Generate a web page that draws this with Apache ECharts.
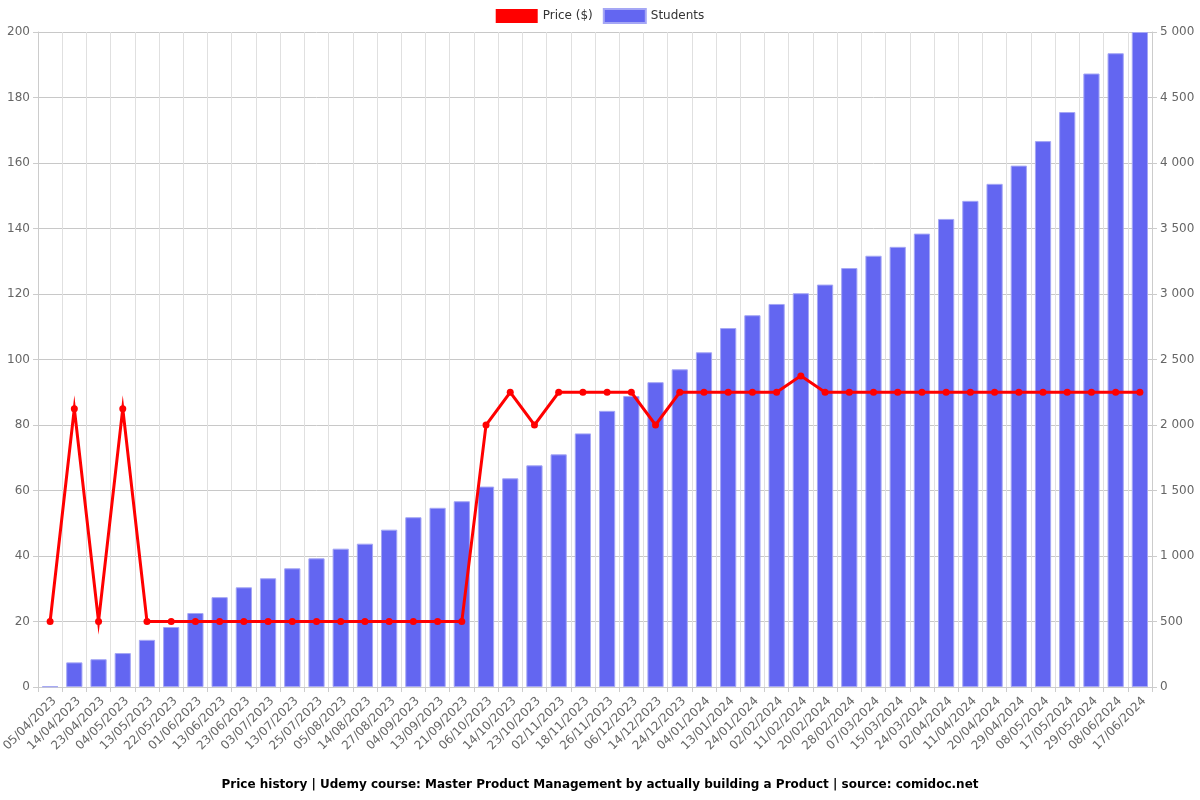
<!DOCTYPE html>
<html>
<head>
<meta charset="utf-8">
<script src="https://cdn.jsdelivr.net/npm/echarts@6/dist/echarts.min.js"></script>
<style>
html, body { margin: 0; padding: 0; background: #fff; }
#chart { width: 1200px; height: 800px; }
</style>
</head>
<body>
<div id="chart"></div>
<script>
var dates = ['05/04/2023', '14/04/2023', '23/04/2023', '04/05/2023', '13/05/2023', '22/05/2023',
  '01/06/2023', '13/06/2023', '23/06/2023', '03/07/2023', '13/07/2023', '25/07/2023',
  '05/08/2023', '14/08/2023', '27/08/2023', '04/09/2023', '13/09/2023', '21/09/2023',
  '06/10/2023', '14/10/2023', '23/10/2023', '02/11/2023', '18/11/2023', '26/11/2023',
  '06/12/2023', '14/12/2023', '24/12/2023', '04/01/2024', '13/01/2024', '24/01/2024',
  '02/02/2024', '11/02/2024', '20/02/2024', '28/02/2024', '07/03/2024', '15/03/2024',
  '24/03/2024', '02/04/2024', '11/04/2024', '20/04/2024', '29/04/2024', '08/05/2024',
  '17/05/2024', '29/05/2024', '08/06/2024', '17/06/2024']

var price = [20, 85, 20, 85, 20, 20, 20, 20, 20, 20, 20, 20, 20, 20, 20, 20, 20, 20,
  80, 90, 80, 90, 90, 90, 90, 80, 90, 90, 90, 90, 90, 95, 90, 90, 90, 90,
  90, 90, 90, 90, 90, 90, 90, 90, 90, 90]

var students = [5, 188, 212, 259, 360, 458, 565, 686, 761, 830, 906, 982, 1056, 1094, 1201, 1296, 1368, 1418,
  1530, 1593, 1692, 1776, 1936, 2108, 2221, 2327, 2425, 2555, 2740, 2838, 2924, 3006, 3072, 3198,
  3292, 3360, 3461, 3573, 3711, 3841, 3980, 4167, 4389, 4683, 4838, 5000]

var leftTicks = { min: 0, max: 200, interval: 20 }
var rightTicks = { min: 0, max: 5000, interval: 500 }

function spaced (v) {
  return String(v).replace(/\B(?=(\d{3})+(?!\d))/g, ' ')
}

var myChart = echarts.init(document.getElementById('chart'))

var option = {
  animation: false,
  title: {
    text: 'Price history | Udemy course: Master Product Management by actually building a Product | source: comidoc.net',
    left: 'center',
    top: 774,
    textStyle: { fontSize: 12, fontWeight: 'bold', color: '#000', fontFamily: 'DejaVu Sans' }
  },
  legend: {
    top: 3,
    left: 'center',
    itemWidth: 42,
    itemHeight: 14,
    itemGap: 10,
    textStyle: { fontSize: 12, color: '#333', fontFamily: 'DejaVu Sans' },
    data: [
      { name: 'Price ($)', icon: 'rect', itemStyle: { color: '#ff0000' } },
      { name: 'Students', icon: 'rect', itemStyle: { color: '#6366f1' } }
    ]
  },
  grid: { left: 38, right: 48, top: 32, bottom: 113, outerBoundsMode: 'none', containLabel: false },
  xAxis: {
    type: 'category',
    data: dates,
    axisTick: { show: true, alignWithLabel: false, lineStyle: { color: '#ccc' } },
    axisLine: { lineStyle: { color: '#ccc' } },
    axisLabel: {
      rotate: 45,
      interval: 0,
      verticalAlign: 'top',
      color: '#666',
      fontSize: 12,
      fontFamily: 'DejaVu Sans'
    },
    splitLine: { show: true, lineStyle: { color: '#e0e0e0' } }
  },
  yAxis: [
    {
      type: 'value',
      min: leftTicks.min,
      max: leftTicks.max,
      interval: leftTicks.interval,
      position: 'left',
      axisLine: { show: true, lineStyle: { color: '#ccc' } },
      axisTick: { show: true, lineStyle: { color: '#ccc' } },
      axisLabel: { color: '#666', fontSize: 12, fontFamily: 'DejaVu Sans' },
      splitLine: { lineStyle: { color: '#c8c8c8' } }
    },
    {
      type: 'value',
      min: rightTicks.min,
      max: rightTicks.max,
      interval: rightTicks.interval,
      position: 'right',
      axisLine: { show: true, lineStyle: { color: '#ccc' } },
      axisTick: { show: true, lineStyle: { color: '#ccc' } },
      axisLabel: { color: '#666', fontSize: 12, fontFamily: 'DejaVu Sans', formatter: spaced },
      splitLine: { show: false }
    }
  ],
  series: [
    {
      name: 'Price ($)',
      type: 'line',
      yAxisIndex: 0,
      data: price,
      z: 3,
      symbol: 'circle',
      symbolSize: 7,
      itemStyle: { color: '#ff0000' },
      lineStyle: { color: '#ff0000', width: 3, join: 'miter', miterLimit: 20 }
    },
    {
      name: 'Students',
      type: 'bar',
      yAxisIndex: 1,
      data: students,
      z: 2,
      barCategoryGap: '33%',
      itemStyle: { color: '#6366f1', borderColor: '#a5a7f5', borderWidth: 1 }
    }
  ]
}

myChart.setOption(option)
</script>
</body>
</html>
